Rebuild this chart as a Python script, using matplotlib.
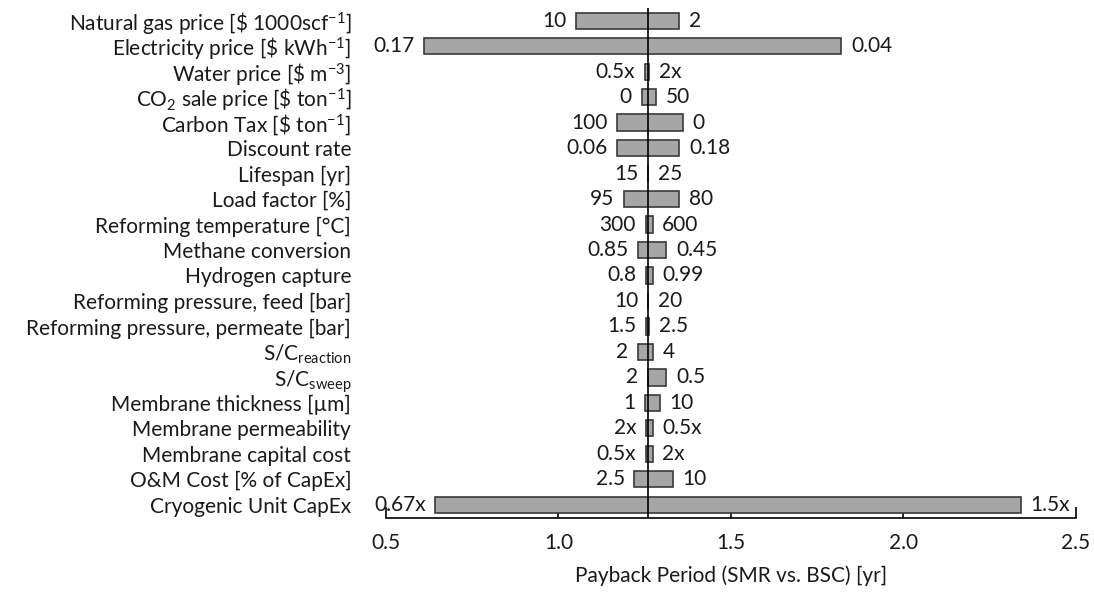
import numpy as np
import matplotlib.pyplot as plt

plt.rcParams['font.family'] = ['Lato', 'DejaVu Sans']
plt.rcParams['mathtext.fontset'] = 'custom'
plt.rcParams['mathtext.rm'] = 'Lato'

# sensitivity parameters, top to bottom
params = [
    r"Natural gas price [\$ 1000scf$\mathregular{^{-1}}$]",
    r"Electricity price [\$ kWh$\mathregular{^{-1}}$]",
    r"Water price [\$ m$\mathregular{^{-3}}$]",
    r"CO$\mathregular{_2}$ sale price [\$ ton$\mathregular{^{-1}}$]",
    r"Carbon Tax [\$ ton$\mathregular{^{-1}}$]",
    "Discount rate",
    "Lifespan [yr]",
    "Load factor [%]",
    "Reforming temperature [°C]",
    "Methane conversion",
    "Hydrogen capture",
    "Reforming pressure, feed [bar]",
    "Reforming pressure, permeate [bar]",
    r"S/C$\mathregular{_{reaction}}$",
    r"S/C$\mathregular{_{sweep}}$",
    "Membrane thickness [µm]",
    "Membrane permeability",
    "Membrane capital cost",
    "O&M Cost [% of CapEx]",
    "Cryogenic Unit CapEx",
]

# payback period at the two ends of each parameter range [yr]
payback_left = [1.051, 0.611, 1.251, 1.241, 1.170, 1.170, 1.26, 1.190, 1.253, 1.230,
                1.253, 1.26, 1.253, 1.230, 1.26, 1.251, 1.253, 1.253, 1.220, 0.643]
payback_right = [1.350, 1.820, 1.262, 1.282, 1.360, 1.350, 1.26, 1.350, 1.273, 1.313,
                 1.273, 1.26, 1.262, 1.273, 1.313, 1.293, 1.273, 1.273, 1.331, 2.340]

# parameter values at each end
labels_left = ["10", "0.17", "0.5x", "0", "100", "0.06", "15", "95", "300", "0.85",
               "0.8", "10", "1.5", "2", "2", "1", "2x", "0.5x", "2.5", "0.67x"]
labels_right = ["2", "0.04", "2x", "50", "0", "0.18", "25", "80", "600", "0.45",
                "0.99", "20", "2.5", "4", "0.5", "10", "0.5x", "2x", "10", "1.5x"]

base_case = 1.26
fs = 15

fig = plt.figure(figsize=(10.94, 5.98), dpi=100)
ax = fig.add_axes([0.3528, 0.1346, 0.6307, 0.852])

y = np.arange(len(params))
left = np.array(payback_left)
right = np.array(payback_right)
ax.barh(y, right - left, left=left, height=0.64, color='#a6a6a6',
        edgecolor='#3a3a3a', linewidth=1.2, zorder=2)
ax.axvline(base_case, color='black', lw=1.2, zorder=3)

for yi, lo, hi, tl, tr in zip(y, left, right, labels_left, labels_right):
    ax.annotate(tl, (lo, yi), xytext=(-7, 0), textcoords='offset points',
                ha='right', va='center', fontsize=fs, color='#1a1a1a')
    ax.annotate(tr, (hi, yi), xytext=(7, 0), textcoords='offset points',
                ha='left', va='center', fontsize=fs, color='#1a1a1a')

ax.set_xlim(0.5, 2.5)
ax.set_ylim(len(params) - 0.5, -0.5)
ax.set_yticks(y)
ax.set_yticklabels(params, fontsize=fs, color='#1a1a1a')
ax.tick_params(axis='y', length=0, pad=25)
ax.set_xticks([0.5, 1.0, 1.5, 2.0, 2.5])
ax.set_xticklabels(['0.5', '1.0', '1.5', '2.0', '2.5'], fontsize=fs, color='#1a1a1a')
ax.tick_params(axis='x', direction='in', length=8, width=1.2, pad=11)
ax.set_xlabel('Payback Period (SMR vs. BSC) [yr]', fontsize=fs, color='#1a1a1a', labelpad=9)

for s in ['top', 'right', 'left']:
    ax.spines[s].set_visible(False)
ax.spines['bottom'].set_linewidth(1.2)

fig.savefig('out.png', dpi=100)
